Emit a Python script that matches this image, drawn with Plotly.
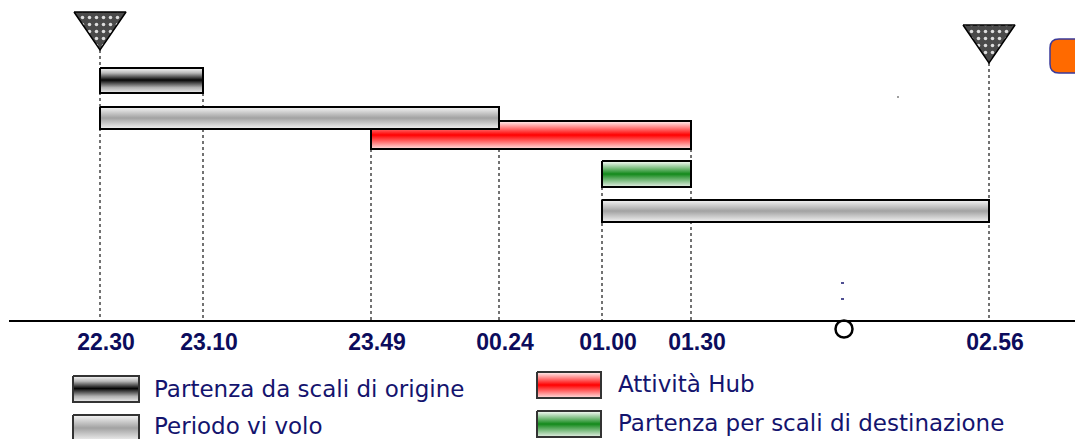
import plotly.graph_objects as go

# ---------------- data ----------------
tick_labels = ["22.30", "23.10", "23.49", "00.24", "01.00", "01.30", "02.56"]
# position of each time mark along the drawn time axis (axis units)
tick_pos = [100, 203, 371, 499, 602, 691, 989]

bar_names = ["Partenza da scali di origine", "Attività Hub", "Periodo vi volo",
             "Partenza per scali di destinazione", "Periodo vi volo"]
bar_start = ["22.30", "23.49", "22.30", "01.00", "01.00"]
bar_end = ["23.10", "01.30", "00.24", "01.30", "02.56"]
bar_kind = ["origine", "hub", "volo", "destinazione", "volo"]

legend_left = ["Partenza da scali di origine", "Periodo vi volo"]
legend_left_kind = ["origine", "volo"]
legend_right = ["Attività Hub", "Partenza per scali di destinazione"]
legend_right_kind = ["hub", "destinazione"]

start_mark = "22.30"
end_mark = "02.56"
now_mark = 844  # circle on the axis

# ---------------- styles ----------------
pos = dict(zip(tick_labels, tick_pos))
AXIS_Y = 321
W, H = 1075, 439

bar_rows = [(68, 93), (121, 149), (107, 129), (161, 187), (200, 222)]

scales = {
    "origine": [[0, "#eeeeee"], [0.22, "#b0b0b0"], [0.52, "#050505"], [0.8, "#b8b8b8"], [1, "#fafafa"]],
    "volo": [[0, "#f2f2f2"], [0.5, "#a2a2a2"], [1, "#f6f6f6"]],
    "hub": [[0, "#ffe2e2"], [0.5, "#ff0000"], [1, "#fff6f6"]],
    "destinazione": [[0, "#e8f0e8"], [0.5, "#12891a"], [1, "#ffffff"]],
}

NAVY = "#14146e"


def grad_rect(x0, x1, y0, y1, cs, color="black", lw=2):
    return go.Scatter(
        x=[x0, x1, x1, x0, x0], y=[y0, y0, y1, y1, y0],
        mode="lines", fill="toself",
        fillgradient=dict(type="vertical", colorscale=cs),
        line=dict(color=color, width=lw),
        hoverinfo="skip", showlegend=False,
    )


fig = go.Figure()

# triangles at start and end
tri_specs = [(start_mark, 12, 50), (end_mark, 25, 63)]
for lab, top, tip in tri_specs:
    cx = pos[lab]
    fig.add_trace(go.Scatter(
        x=[cx - 26, cx + 26, cx, cx - 26], y=[top, top, tip, top],
        mode="lines", fill="toself", fillcolor="#4a4a4a",
        fillpattern=dict(shape=".", bgcolor="#4a4a4a", fgcolor="#dddddd",
                         size=7, solidity=0.2, fillmode="replace"),
        line=dict(color="black", width=1.5),
        hoverinfo="skip", showlegend=False,
    ))

# bars
for name, s, e, k, (y0, y1) in zip(bar_names, bar_start, bar_end, bar_kind, bar_rows):
    t = grad_rect(pos[s], pos[e], y0, y1, scales[k])
    t.name = name
    fig.add_trace(t)

# legend swatches + text
left_rows = [(376, 402), (415, 441)]
right_rows = [(372, 398), (411, 437)]
left_text_y = [389, 426]
right_text_y = [384, 423]
for lab, k, (y0, y1), ty in zip(legend_left, legend_left_kind, left_rows, left_text_y):
    fig.add_trace(grad_rect(73, 139, y0, y1, scales[k], color="#333333", lw=2))
    fig.add_annotation(x=153, y=ty, text=lab, showarrow=False, borderpad=0,
                       xanchor="left", yanchor="middle",
                       font=dict(family="DejaVu Sans", size=23, color=NAVY))
for lab, k, (y0, y1), ty in zip(legend_right, legend_right_kind, right_rows, right_text_y):
    fig.add_annotation(x=617, y=ty, text=lab, showarrow=False, borderpad=0,
                       xanchor="left", yanchor="middle",
                       font=dict(family="DejaVu Sans", size=23, color=NAVY))
    fig.add_trace(grad_rect(537, 601, y0, y1, scales[k], color="#333333", lw=2))

# "now" circle on the axis
fig.add_trace(go.Scatter(
    x=[now_mark], y=[AXIS_Y + 8], mode="markers",
    marker=dict(symbol="circle", size=17, color="white",
                line=dict(color="black", width=2.5)),
    hoverinfo="skip", showlegend=False,
))

# dotted guide lines (below traces)
guide_tops = {"22.30": 50, "23.10": 93, "23.49": 149, "00.24": 107,
              "01.00": 187, "01.30": 149, "02.56": 63}
for lab, x in zip(tick_labels, tick_pos):
    fig.add_shape(type="line", x0=x, x1=x, y0=guide_tops[lab], y1=AXIS_Y,
                  xref="x", yref="y", layer="below",
                  line=dict(color="#444444", width=1.5, dash="dot"))

# orange rounded box at top right (clipped by the page edge)
x0, x1, y0, y1, r = 1050, 1110, 39, 73, 9
path = (f"M {x0+r},{y0} L {x1-r},{y0} Q {x1},{y0} {x1},{y0+r} L {x1},{y1-r} "
        f"Q {x1},{y1} {x1-r},{y1} L {x0+r},{y1} Q {x0},{y1} {x0},{y1-r} "
        f"L {x0},{y0+r} Q {x0},{y0} {x0+r},{y0} Z")
fig.add_shape(type="path", path=path, xref="x", yref="y",
              fillcolor="#ff6a00", line=dict(color="#3a3a9a", width=1.5))

# small stray marks
fig.add_shape(type="line", x0=897.5, x1=898.5, y0=97, y1=97, xref="x", yref="y",
              line=dict(color="black", width=1.5))
for yy in (283, 299):
    fig.add_shape(type="line", x0=841, x1=844, y0=yy, y1=yy, xref="x", yref="y",
                  line=dict(color=NAVY, width=1.5))

fig.update_layout(
    width=W, height=H,
    margin=dict(l=0, r=0, t=0, b=0),
    paper_bgcolor="white", plot_bgcolor="white",
    showlegend=False,
    xaxis=dict(
        domain=[9 / W, 1], range=[9, W],
        anchor="free", position=1 - AXIS_Y / H,
        showline=True, linecolor="black", linewidth=2,
        showgrid=False, zeroline=False, ticks="",
        tickvals=tick_pos, ticktext=[f"<b>{t}</b>" for t in tick_labels],
        tickfont=dict(family="Liberation Sans, Arial", size=23, color="#0c0c5c"),
        ticklabelshift=6, ticklabelstandoff=0,
        fixedrange=True,
    ),
    yaxis=dict(domain=[0, 1], range=[H, 0], visible=False, fixedrange=True),
)

fig.write_html(
    "out.html",
    config={"displayModeBar": False},
    post_script="document.body.style.margin='0';document.body.style.overflow='hidden';",
)
